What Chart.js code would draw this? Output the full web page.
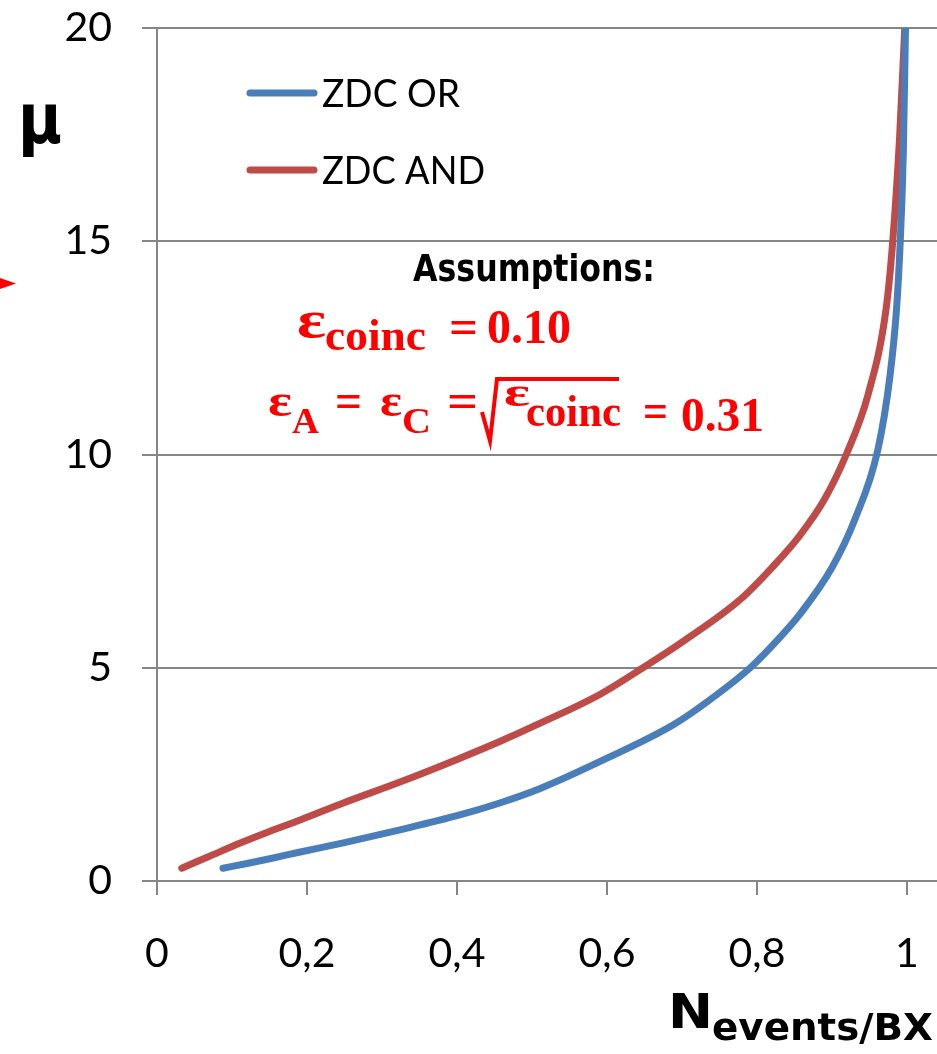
<!DOCTYPE html>
<html>
<head>
<meta charset="utf-8">
<title>ZDC mu vs N events/BX</title>
<style>
  body { margin: 0; background: #fff; overflow: hidden; }
  #wrap { width: 937px; height: 1054px; overflow: hidden; }
</style>
<script src="https://cdn.jsdelivr.net/npm/chart.js@4.4.0/dist/chart.umd.min.js"></script>
</head>
<body>
<div id="wrap"><canvas id="c" width="937" height="1054"></canvas></div>
<script>
// values: x = N events/BX, y = mu
const orN  = [0.088, 0.12, 0.155, 0.191, 0.25, 0.324, 0.40, 0.457, 0.511, 0.60, 0.688, 0.724, 0.791, 0.83, 0.857, 0.90, 0.931, 0.961, 0.977, 0.986, 0.991, 0.995, 0.998];
const orMu = [0.30, 0.41, 0.54, 0.68, 0.90, 1.20, 1.53, 1.83, 2.17, 2.88, 3.66, 4.08, 5.0, 5.7, 6.25, 7.35, 8.5, 10.1, 11.8, 13.4, 15.0, 17.0, 20.0];

const andN  = [0.033, 0.07, 0.111, 0.15, 0.191, 0.25, 0.324, 0.40, 0.457, 0.511, 0.591, 0.648, 0.70, 0.777, 0.82, 0.857, 0.89, 0.919, 0.948, 0.972, 0.981, 0.99, 0.997];
const andMu = [0.30, 0.58, 0.89, 1.16, 1.43, 1.84, 2.32, 2.85, 3.27, 3.70, 4.38, 5.0, 5.6, 6.59, 7.35, 8.1, 8.95, 10.0, 11.4, 13.4, 15.0, 17.4, 20.0];

const seriesNames = ['ZDC OR', 'ZDC AND'];
const xTicks = [0, 0.2, 0.4, 0.6, 0.8, 1];
const yTicks = [0, 5, 10, 15, 20];

const blue = '#4A7EBB';
const red = '#BE4B48';
const grey = '#868686';

function pts(xs, ys) {
    return xs.map((x, i) => ({ x: x, y: ys[i] }));
}

// draw a text squeezed/stretched to a given width
function txt(ctx, s, x, y, font, color, w) {
    ctx.save();
    ctx.font = font;
    ctx.fillStyle = color;
    ctx.textAlign = 'left';
    ctx.textBaseline = 'alphabetic';
    if (w) {
        const m = ctx.measureText(s).width;
        ctx.translate(x, y);
        ctx.scale(w / m, 1);
        ctx.fillText(s, 0, 0);
    } else {
        ctx.fillText(s, x, y);
    }
    ctx.restore();
}

const extras = {
    id: 'extras',
    afterDraw(chart) {
        const ctx = chart.ctx;

        // legend
        const ly = [93, 170];
        chart.data.datasets.forEach((ds, i) => {
            ctx.save();
            ctx.strokeStyle = ds.borderColor;
            ctx.lineWidth = 7;
            ctx.lineCap = 'round';
            ctx.beginPath();
            ctx.moveTo(250, ly[i]);
            ctx.lineTo(314, ly[i]);
            ctx.stroke();
            ctx.restore();
            txt(ctx, ds.label, 322, ly[i] + 14, '38px Lato', '#000', i === 0 ? 138 : 163);
        });

        // y title
        txt(ctx, '\u03bc', 18, 143, 'bold 70px "DejaVu Sans"', '#000', 44);

        // red arrow head at left edge
        ctx.save();
        ctx.fillStyle = '#FF0000';
        ctx.beginPath();
        ctx.moveTo(0, 278);
        ctx.lineTo(16, 283.5);
        ctx.lineTo(0, 289);
        ctx.closePath();
        ctx.fill();
        ctx.restore();

        // assumptions
        txt(ctx, 'Assumptions:', 413, 281, 'bold 38px "DejaVu Sans"', '#000', 242);
        const R = '#FF0000';
        const big = 'bold 52px "Liberation Serif"';
        const eps2 = 'bold 46px "Liberation Serif"';
        const eps3 = 'bold 40px "Liberation Serif"';
        const mid = 'bold 48px "Liberation Serif"';
        const sub = 'bold 44px "Liberation Serif"';
        const sub2 = 'bold 36px "Liberation Serif"';
        txt(ctx, '\u03b5', 297, 337, big, R, 29);
        txt(ctx, 'coinc', 325, 350, sub, R, 101);
        txt(ctx, '=', 449, 343, mid, R, 29);
        txt(ctx, '0.10', 487, 343, mid, R, 84);

        txt(ctx, '\u03b5', 268, 416, eps2, R, 24);
        txt(ctx, 'A', 292, 433, sub2, R, 27);
        txt(ctx, '=', 335, 417, mid, R, 27);
        txt(ctx, '\u03b5', 380, 416, eps2, R, 22);
        txt(ctx, 'C', 402, 433, sub2, R, 29);
        txt(ctx, '=', 447, 417, mid, R, 31);
        ctx.save();
        ctx.strokeStyle = R;
        ctx.lineWidth = 4;
        ctx.lineJoin = 'miter';
        ctx.beginPath();
        ctx.moveTo(482, 412);
        ctx.lineTo(490, 441);
        ctx.lineTo(497, 379);
        ctx.lineTo(619, 379);
        ctx.stroke();
        ctx.restore();
        txt(ctx, '\u03b5', 504, 406, eps3, R, 26);
        txt(ctx, 'coinc', 526, 426, sub, R, 95);
        txt(ctx, '=', 643, 427, mid, R, 25);
        txt(ctx, '0.31', 681, 431, mid, R, 83);

        // x title
        txt(ctx, 'N', 668, 1028, 'bold 48px "DejaVu Sans"', '#000', 45);
        txt(ctx, 'events/BX', 712, 1040, 'bold 38px "DejaVu Sans"', '#000', 221);
    }
};

new Chart(document.getElementById('c'), {
    type: 'scatter',
    data: {
        datasets: [
            {
                label: seriesNames[0],
                data: pts(orN, orMu),
                borderColor: blue,
                backgroundColor: blue,
                showLine: true,
                borderWidth: 7,
                borderCapStyle: 'round',
                cubicInterpolationMode: 'monotone',
                pointRadius: 0
            },
            {
                label: seriesNames[1],
                data: pts(andN, andMu),
                borderColor: red,
                backgroundColor: red,
                showLine: true,
                borderWidth: 7,
                borderCapStyle: 'round',
                cubicInterpolationMode: 'monotone',
                pointRadius: 0
            }
        ]
    },
    options: {
        responsive: false,
        animation: false,
        layout: { padding: { top: 28, left: 0, right: 0, bottom: 0 } },
        plugins: {
            legend: { display: false },
            tooltip: { enabled: false }
        },
        scales: {
            x: {
                type: 'linear',
                min: 0,
                max: 1.04,
                afterBuildTicks: s => { s.ticks = xTicks.map(v => ({ value: v })); },
                afterFit: s => { s.height = 173; s.paddingLeft = 0; s.paddingRight = 0; },
                grid: { drawOnChartArea: false, drawTicks: true, tickLength: 14, color: grey, lineWidth: 2 },
                border: { color: grey, width: 2 },
                ticks: {
                    font: { family: 'Lato', size: 41 },
                    color: '#000',
                    padding: 34,
                    maxRotation: 0,
                    callback: v => String(v).replace('.', ',')
                }
            },
            y: {
                min: 0,
                max: 20,
                afterBuildTicks: s => { s.ticks = yTicks.map(v => ({ value: v })); },
                afterFit: s => { s.width = 157; s.paddingTop = 0; s.paddingBottom = 0; },
                grid: { color: grey, lineWidth: 2, tickLength: 15 },
                border: { color: grey, width: 2 },
                ticks: {
                    font: { family: 'Lato', size: 41 },
                    color: '#000',
                    padding: 30
                }
            }
        }
    },
    plugins: [extras]
});
</script>
</body>
</html>
